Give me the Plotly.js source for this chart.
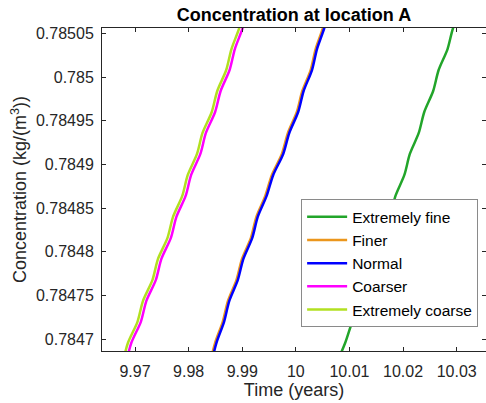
<!DOCTYPE html>
<html>
<head>
<meta charset="utf-8">
<script src="https://cdn.plot.ly/plotly-3.0.1.min.js"></script>
<style>
  html, body { margin: 0; padding: 0; background: #ffffff; }
  #chart { width: 486px; height: 403px; }
</style>
</head>
<body>
<div id="chart"></div>
<script>
// Concentration levels (kg/m^3) at which each mesh run's arrival time is sampled
const concentration = [0.785080, 0.785056, 0.785032, 0.785008, 0.784984, 0.784960,
                       0.784936, 0.784912, 0.784888, 0.784864, 0.784840, 0.784816,
                       0.784792, 0.784768, 0.784744, 0.784720, 0.784696, 0.784672];

// Time (years) at which each run reaches the levels above
const timeExtremelyFine = [10.03098, 10.02932, 10.02829, 10.02663, 10.02561, 10.02395,
                           10.02292, 10.02126, 10.02024, 10.01858, 10.01755, 10.01589,
                           10.01486, 10.01321, 10.01218, 10.01052, 10.00921, 10.00754];
const timeFiner = [10.00607, 10.00505, 10.00369, 10.00276, 10.00120, 10.00018,
                   9.99852, 9.99739, 9.99553, 9.99430, 9.99264, 9.99162,
                   9.98996, 9.98893, 9.98734, 9.98636, 9.98494, 9.98396];
const timeNormal = [10.00632, 10.00530, 10.00394, 10.00301, 10.00145, 10.00043,
                    9.99877, 9.99764, 9.99578, 9.99455, 9.99289, 9.99187,
                    9.99021, 9.98918, 9.98759, 9.98661, 9.98519, 9.98421];
const timeCoarser = [9.99110, 9.99007, 9.98862, 9.98764, 9.98597, 9.98494,
                     9.98322, 9.98219, 9.98047, 9.97944, 9.97772, 9.97669,
                     9.97492, 9.97389, 9.97212, 9.97109, 9.96932, 9.96829];
const timeExtremelyCoarse = [9.99047, 9.98944, 9.98799, 9.98701, 9.98534, 9.98431,
                             9.98259, 9.98156, 9.97984, 9.97881, 9.97709, 9.97606,
                             9.97429, 9.97326, 9.97149, 9.97046, 9.96869, 9.96766];

const seriesNames = ['Extremely fine', 'Finer', 'Normal', 'Coarser', 'Extremely coarse'];
const seriesColors = ['#22A52A', '#EB961C', '#0000FF', '#FF00FF', '#B2E021'];
const seriesTimes = [timeExtremelyFine, timeFiner, timeNormal, timeCoarser, timeExtremelyCoarse];

const xTickVals = [9.97, 9.98, 9.99, 10, 10.01, 10.02, 10.03];
const xTickText = ['9.97', '9.98', '9.99', '10', '10.01', '10.02', '10.03'];
const yTickVals = [0.7847, 0.78475, 0.7848, 0.78485, 0.7849, 0.78495, 0.785, 0.78505];
const yTickText = ['0.7847', '0.78475', '0.7848', '0.78485', '0.7849', '0.78495', '0.785', '0.78505'];

const traces = seriesNames.map((name, i) => ({
  type: 'scatter',
  mode: 'lines',
  name: name,
  x: seriesTimes[i],
  y: concentration,
  line: { color: seriesColors[i], width: 2.5, shape: 'spline', smoothing: 0.8 },
  hoverinfo: 'x+y+name'
}));

const axisCommon = {
  showline: true,
  linecolor: '#262626',
  linewidth: 1,
  mirror: 'ticks',
  ticks: 'inside',
  ticklen: 4,
  tickwidth: 1,
  tickcolor: '#262626',
  showgrid: false,
  zeroline: false,
  tickfont: { size: 16, color: '#262626' }
};

const layout = {
  width: 486,
  height: 403,
  margin: { l: 102, r: 0, t: 28, b: 52 },
  paper_bgcolor: '#ffffff',
  plot_bgcolor: '#ffffff',
  font: { family: '"Liberation Sans", Arial, Helvetica, sans-serif', color: '#262626', size: 16 },
  title: {
    text: '<b>Concentration at location A</b>',
    font: { size: 18, color: '#000000' },
    x: 0.5, xref: 'paper', xanchor: 'center',
    y: 0.963, yref: 'container', yanchor: 'middle'
  },
  xaxis: Object.assign({}, axisCommon, {
    range: [9.963845, 10.035464],
    tickmode: 'array',
    tickvals: xTickVals,
    ticktext: xTickText,
    ticklabelstandoff: 6,
    title: { text: 'Time (years)', font: { size: 18, color: '#262626' }, standoff: 4 }
  }),
  yaxis: Object.assign({}, axisCommon, {
    range: [0.7846866, 0.78505606],
    tickmode: 'array',
    tickvals: yTickVals,
    ticktext: yTickText,
    ticklabelstandoff: 4,
    title: { text: 'Concentration (kg/(m<sup>3</sup>))', font: { size: 18, color: '#262626' }, standoff: 4 }
  }),
  legend: {
    x: 0.9795, xanchor: 'right',
    y: 0.0734, yanchor: 'bottom',
    bgcolor: '#ffffff',
    bordercolor: '#8a8a8a',
    borderwidth: 1,
    font: { size: 15.5, color: '#000000' },
    itemwidth: 40,
    tracegroupgap: 0
  },
  showlegend: true
};

Plotly.newPlot('chart', traces, layout, { displayModeBar: false, staticPlot: true });
</script>
</body>
</html>
